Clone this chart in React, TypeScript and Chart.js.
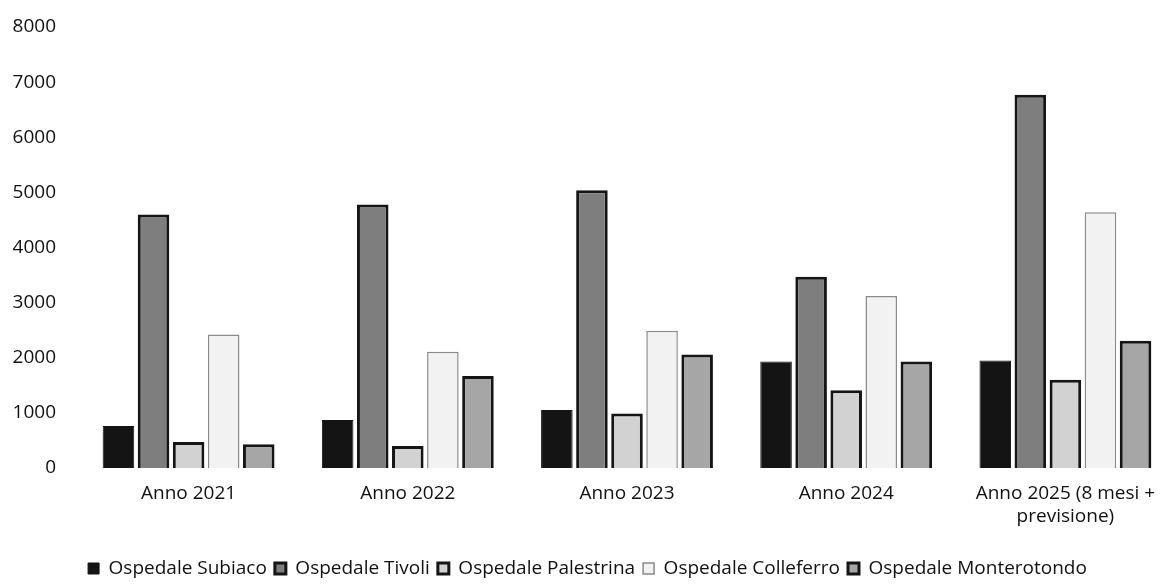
import React, { useEffect, useRef } from "react";
import { Chart, registerables } from "chart.js";

Chart.register(...registerables);

const categories: (string | string[])[] = [
  "Anno 2021",
  "Anno 2022",
  "Anno 2023",
  "Anno 2024",
  ["Anno 2025 (8 mesi +", "previsione)"],
];

const subiaco = [760, 870, 1050, 1930, 1950];
const tivoli = [4600, 4780, 5040, 3470, 6770];
const palestrina = [470, 400, 990, 1410, 1600];
const colleferro = [2420, 2110, 2490, 3120, 4640];
const monterotondo = [430, 1670, 2060, 1930, 2310];

const yTicks = [0, 1000, 2000, 3000, 4000, 5000, 6000, 7000, 8000];

const FONT = "'Open Sans', 'DejaVu Sans', sans-serif";

export default function App() {
  const ref = useRef<HTMLCanvasElement | null>(null);

  useEffect(() => {
    if (!ref.current) return;
    const chart = new Chart(ref.current, {
      type: "bar",
      data: {
        labels: categories,
        datasets: [
          {
            label: "Ospedale Subiaco",
            data: subiaco,
            backgroundColor: "#141414",
            borderColor: "#141414",
            borderWidth: 1,
          },
          {
            label: "Ospedale Tivoli",
            data: tivoli,
            backgroundColor: "#7e7e7e",
            borderColor: "#151515",
            borderWidth: 3,
          },
          {
            label: "Ospedale Palestrina",
            data: palestrina,
            backgroundColor: "#d2d2d2",
            borderColor: "#151515",
            borderWidth: 3,
          },
          {
            label: "Ospedale Colleferro",
            data: colleferro,
            backgroundColor: "#f2f2f2",
            borderColor: "#8a8a8a",
            borderWidth: 1.5,
          },
          {
            label: "Ospedale Monterotondo",
            data: monterotondo,
            backgroundColor: "#a6a6a6",
            borderColor: "#151515",
            borderWidth: 3,
          },
        ],
      },
      options: {
        animation: false,
        responsive: true,
        maintainAspectRatio: false,
        layout: { padding: { left: 0, right: 0, top: 0, bottom: -1 } },
        plugins: {
          tooltip: { enabled: false },
          legend: {
            position: "bottom",
            labels: {
              boxWidth: 11,
              boxHeight: 11,
              padding: 8,
              color: "#111",
              font: { family: FONT, size: 19 },
            },
          },
        },
        scales: {
          x: {
            grid: { display: false, drawTicks: false },
            border: { display: false },
            categoryPercentage: 0.77,
            barPercentage: 0.77,
            afterFit: (scale: any) => {
              scale.height = 83;
            },
            ticks: {
              color: "#111",
              font: { family: FONT, size: 19 },
              padding: 14,
              maxRotation: 0,
            },
          },
          y: {
            min: 0,
            max: 8000,
            afterBuildTicks: (axis: any) => {
              axis.ticks = yTicks.map((v) => ({ value: v }));
            },
            afterFit: (scale: any) => {
              scale.width = 79;
              scale.paddingTop = 27;
            },
            grid: { display: false, drawTicks: false },
            border: { display: false },
            ticks: {
              color: "#111",
              font: { family: FONT, size: 19 },
              padding: 23,
              callback: (v: any) => String(v),
            },
          },
        },
      },
    });
    return () => chart.destroy();
  }, []);

  return (
    <div
      style={{
        position: "absolute",
        left: 0,
        top: 0,
        width: 1175,
        height: 587,
        background: "#fff",
      }}
    >
      <canvas ref={ref} />
    </div>
  );
}
